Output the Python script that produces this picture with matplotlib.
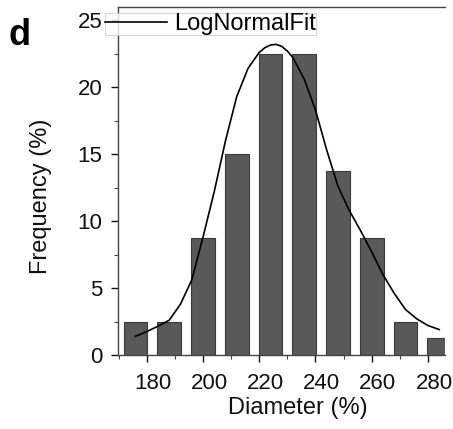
import matplotlib
matplotlib.use("Agg")
import matplotlib.pyplot as plt
from matplotlib.ticker import MultipleLocator
from matplotlib.transforms import ScaledTranslation

# Histogram data
bin_centers = [176, 188, 200, 212, 224, 236, 248, 260, 272, 284]
frequency = [2.5, 2.5, 8.75, 15.0, 22.5, 22.5, 13.75, 8.75, 2.5, 1.25]

# LogNormal fit curve
fit_x = [176, 180, 184, 188, 192, 196, 200, 204, 208, 212, 216, 220, 222, 224, 226, 228,
         230, 232, 236, 240, 244, 248, 252, 256, 260, 264, 268, 272, 276, 280, 284]
fit_y = [1.4, 1.75, 2.15, 2.6, 3.8, 5.6, 8.8, 12.2, 16.0, 19.3, 21.4, 22.6, 22.95, 23.15, 23.2, 23.05,
         22.7, 22.2, 20.6, 18.3, 15.3, 12.6, 10.8, 9.3, 7.7, 6.0, 4.6, 3.4, 2.7, 2.2, 1.9]

x_ticks = [180, 200, 220, 240, 260, 280]
y_ticks = [0, 5, 10, 15, 20, 25]

plt.rcParams['font.family'] = ['Liberation Sans', 'DejaVu Sans']

fig = plt.figure(figsize=(4.53, 4.29), dpi=100)
ax = fig.add_axes([0.26, 0.1725, 0.722, 0.8115])

ax.bar(bin_centers, frequency, width=8.5, color='#595959', edgecolor='#3a3a3a',
       linewidth=0.8, zorder=2)
ax.plot(fit_x, fit_y, color='black', linewidth=1.2, zorder=3, label='LogNormalFit')

ax.set_xlim(169.7, 286)
ax.set_ylim(0, 26)
ax.set_xticks(x_ticks)
ax.set_yticks(y_ticks)
ax.xaxis.set_minor_locator(MultipleLocator(10))
ax.yaxis.set_minor_locator(MultipleLocator(2.5))
ax.tick_params(axis='both', which='major', direction='out', length=5, width=1,
               labelsize=16, colors='#111111')
ax.tick_params(axis='x', which='major', pad=8)
ax.tick_params(axis='y', which='major', pad=6)
ax.tick_params(axis='both', which='minor', direction='out', length=3, width=0.8,
               colors='#444444')
for lbl in ax.get_xticklabels():
    lbl.set_transform(lbl.get_transform() + ScaledTranslation(6 / 100, 0, fig.dpi_scale_trans))

for side in ['left', 'bottom', 'top']:
    ax.spines[side].set_color('#444444')
    ax.spines[side].set_linewidth(1)
ax.spines['right'].set_visible(False)

ax.set_xlabel('Diameter (%)', fontsize=17, color='#111111')
ax.xaxis.set_label_coords(0.55, -0.12)
ax.set_ylabel('Frequency (%)', fontsize=17, color='#111111')
ax.yaxis.set_label_coords(-0.20, 0.455)

leg = ax.legend(loc='upper left', bbox_to_anchor=(-0.045, 0.988), fontsize=17,
                frameon=True, fancybox=False, edgecolor='#cccccc', handlelength=2.6,
                borderpad=0.0, borderaxespad=0.1, handletextpad=0.3)
leg.get_frame().set_linewidth(0.8)

fig.text(0.018, 0.895, 'd', fontsize=26, fontweight='bold', color='black')

fig.savefig('out.png', dpi=100)
